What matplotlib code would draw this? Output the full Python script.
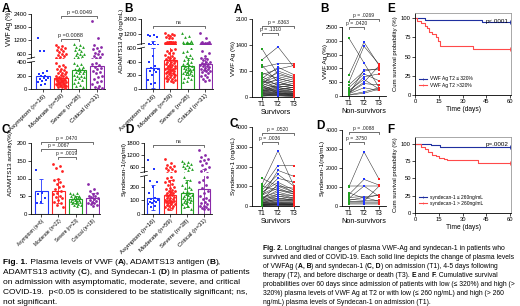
import matplotlib
matplotlib.use('Agg')
import matplotlib.pyplot as plt
from matplotlib.lines import Line2D
from matplotlib import transforms as mtrans
import numpy as np

plt.rcParams['font.family'] = ['Liberation Sans', 'DejaVu Sans']
plt.rcParams['axes.linewidth'] = 0.6

# ---------------- data ----------------
groups = ['Asymptom', 'Moderate', 'Severe', 'Critical']
n_ab = [16, 59, 38, 31]
n_c = [6, 22, 23, 18]
n_d = [16, 59, 38, 31]

vwf_asym = [1320, 740, 700, 260, 240, 220, 200, 190, 170, 160, 150, 130, 120, 100, 80, 60]
vwf_mod = [980, 950, 900, 870, 820, 760, 720, 680, 600, 560, 520, 480, 440,
           380, 360, 340, 320, 300, 290, 280, 260, 250, 240, 230, 220, 210, 200, 190, 180,
           175, 170, 160, 155, 150, 145, 140, 135, 130, 125, 120, 115, 110, 105, 100, 95,
           90, 85, 80, 75, 70, 65, 60, 55, 50, 45, 40, 35, 30, 20]
vwf_sev = [1020, 980, 900, 880, 800, 760, 700, 640, 600, 560, 520, 480, 440,
           390, 370, 350, 330, 310, 300, 290, 280, 270, 260, 250, 240, 230, 210, 200,
           190, 180, 160, 150, 130, 110, 90, 60, 40, 30]
vwf_crit = [2100, 1300, 1000, 900, 860, 800, 700, 650, 600, 560, 500, 460,
            390, 370, 350, 330, 310, 290, 270, 250, 230, 200, 180, 150, 120, 100, 80, 50, 30, 20, 10]
vwf_bar = [190, 160, 280, 340]

adam_asym = [1150, 1100, 1000, 950, 480, 400, 340, 310, 300, 280, 260, 250, 200, 130, 90, 70]
adam_mod = [1250, 1200, 1150, 1100, 1000, 950, 900, 850,
            590, 570, 550, 530, 520, 500, 480, 470, 460, 450, 440, 430, 420, 410, 400, 390,
            380, 370, 360, 350, 340, 330, 320, 310, 300, 300, 290, 280, 270, 260, 250, 240,
            230, 220, 210, 200, 190, 180, 170, 160, 150, 140, 130, 120, 110, 100, 340, 310, 280, 250, 220]
adam_sev = [1250, 1000, 950,
            600, 560, 540, 500, 480, 460, 440, 420, 400, 380, 360, 350, 340, 330, 320, 310,
            300, 300, 290, 280, 270, 260, 250, 240, 230, 220, 200, 180, 160, 140, 120, 100]
adam_crit = [1300, 900,
             560, 520, 480, 460, 440, 420, 400, 390, 380, 370, 360, 350, 340, 330, 320, 310,
             300, 290, 280, 270, 260, 250, 230, 210, 190, 170, 150, 130, 110]
adam_bar = [310, 430, 330, 370]
adam_err = [290, 200, 120, 90]

act_asym = [125, 60, 55, 45, 35, 30]
act_mod = [140, 135, 130, 120, 100, 95, 90, 85, 80, 75, 70, 65, 60, 55, 50, 48, 45, 40, 35, 30, 25, 20]
act_sev = [60, 58, 55, 52, 50, 50, 48, 46, 45, 44, 42, 40, 40, 38, 36, 35, 34, 32, 30, 28, 26, 25, 22]
act_crit = [85, 70, 65, 60, 55, 52, 50, 48, 45, 42, 40, 38, 35, 32, 30, 28, 25, 22]
act_bar = [65, 65, 42, 45]
act_err = [35, 35, 10, 15]

syn_asym = [920, 480, 240, 230, 200, 150, 120, 110, 100, 95, 90, 85, 80, 70, 60, 50]
syn_mod = [1000, 800, 700, 650, 600, 550, 500, 450, 400,
           270, 260, 250, 240, 230, 220, 210, 200, 190, 180, 175, 170, 165, 160, 155, 150,
           145, 140, 135, 130, 125, 120, 115, 110, 105, 100, 98, 95, 92, 90, 88, 85, 80, 75,
           70, 65, 60, 55, 50, 45, 40]
syn_sev = [900, 850, 800, 750, 700, 650, 600, 550, 500, 450,
           270, 250, 230, 210, 200, 190, 180, 170, 160, 150, 145, 140, 135, 130, 125, 120,
           115, 110, 105, 100, 95, 90, 85, 80, 70, 60, 50, 40]
syn_crit = [1450, 1200, 1100, 1000, 950, 900, 800, 700, 600, 500, 400,
            270, 250, 230, 210, 190, 170, 150, 130, 120, 110, 100, 90, 80, 70, 60, 55, 50, 45, 40, 35]
syn_bar = [120, 140, 150, 180]
syn_err = [90, 110, 100, 300]

# Fig 2 longitudinal (T1, T2, T3)
sv_vwf_t1 = [1300, 1000, 850, 800, 650, 600, 550, 500, 480, 450, 420, 400, 380, 360, 340, 320, 300, 280, 260, 240,
             220, 200, 190, 180, 170, 160, 150, 140, 130, 120, 110, 100, 90, 80, 70, 60, 50, 40, 30, 20]
sv_vwf_t2 = [600, 1350, 400, 900, 500, 750, 300, 800, 200, 650, 350, 550, 450, 250, 700, 150, 500, 100, 400, 300,
             250, 200, 350, 180, 150, 300, 120, 250, 100, 200, 80, 150, 60, 120, 50, 100, 40, 80, 30, 60]
sv_vwf_t3 = [500, 800, 300, 900, 400, 850, 250, 600, 200, 500, 300, 450, 350, 200, 550, 150, 400, 100, 300, 250,
             200, 150, 300, 120, 100, 250, 80, 200, 60, 150, 50, 100, 40, 80, 30, 60, 20, 50, 10, 40]
ns_vwf_t1 = [2100, 750, 500, 400, 300, 200, 150, 120, 100, 80, 60, 40, 30]
ns_vwf_t2 = [1200, 1950, 1800, 900, 800, 600, 700, 500, 450, 300, 950, 150, 100]
ns_vwf_t3 = [300, 1100, 1150, 1000, 550, 250, 800, 1100, 400, 200, 950, 300, 250]

sv_syn_t1 = [1400, 1100, 1000, 900, 800, 700, 650, 600, 550, 500, 450, 400, 380, 350, 320, 300, 280, 250, 230, 200,
             180, 160, 150, 140, 120, 100, 90, 80, 70, 60, 50, 40, 30, 20, 10]
sv_syn_t2 = [1000, 2800, 800, 2050, 1600, 1200, 1400, 1000, 900, 1800, 700, 600, 800, 500, 1100, 400, 600, 300, 500, 350,
             250, 200, 400, 150, 300, 120, 200, 100, 150, 80, 100, 60, 80, 40, 30]
sv_syn_t3 = [900, 1000, 700, 2050, 1000, 800, 1200, 700, 600, 1500, 500, 400, 600, 350, 700, 300, 500, 250, 400, 300,
             200, 150, 300, 120, 250, 100, 150, 80, 120, 60, 80, 50, 60, 30, 20]
ns_syn_t1 = [1050, 1000, 700, 600, 450, 400, 350, 300, 250, 200, 150, 100]
ns_syn_t2 = [1050, 2850, 400, 1400, 500, 1050, 300, 450, 250, 200, 150, 100]
ns_syn_t3 = [1050, 1400, 600, 1100, 550, 500, 300, 250, 1050, 200, 150, 100]

# Kaplan-Meier
e_low_t = [0, 6, 42, 60]
e_low_s = [100, 97, 95, 95]
e_high_t = [0, 1.5, 3.5, 6, 7.5, 9, 11, 13, 14.5, 16, 36.5, 60]
e_high_s = [100, 96, 93, 90, 87, 82, 79, 75, 70, 64, 60, 60]
f_low_t = [0, 10, 16, 34, 60]
f_low_s = [100, 98, 96, 95, 95]
f_high_t = [0, 4, 6, 8, 10.5, 13, 15, 18, 20, 40, 60]
f_high_s = [100, 96, 92, 88, 84, 82, 80, 78, 76, 73, 73]

BLUE, RED, GREEN, PURPLE = '#2235ff', '#ff2222', '#22a022', '#8a2aa8'
COLS = [BLUE, RED, GREEN, PURPLE]
MARKS = ['s', 'o', '^', 'o']

# ---------------- figure ----------------
W, H = 520, 306
fig = plt.figure(figsize=(W / 100, H / 100), dpi=100)


def rect(l, t, r, b):
    return [l / W, 1 - b / H, (r - l) / W, (b - t) / H]


def fx(x):
    return x / W


def fy(y):
    return 1 - y / H


def jitter(n, spread=0.3):
    k = np.arange(n)
    return ((k * 0.6180339887) % 1 - 0.5) * 2 * spread


def style(ax, fs=4.3):
    ax.spines[['top', 'right']].set_visible(False)
    ax.tick_params(labelsize=fs, length=2, width=0.5, pad=1)


def draw_groups(ax, data, bars, err):
    for i, (vals, c, m) in enumerate(zip(data, COLS, MARKS)):
        ax.bar(i, bars[i], width=0.75, facecolor='white', edgecolor=c, lw=0.8, zorder=1)
        ax.scatter(i + jitter(len(vals)), vals, s=4, color=c, marker=m, lw=0, zorder=3)
        if err is not None:
            ax.errorbar(i, bars[i], yerr=err[i], color=c, capsize=1.5, lw=0.6,
                        capthick=0.6, zorder=4)


def xcats(ax, ns, fs):
    ax.set_xticks(range(4))
    ax.set_xticklabels([f'{g} (n={n})' for g, n in zip(groups, ns)], rotation=45,
                       ha='right', rotation_mode='anchor', fontsize=fs)


def bracket(ax, i1, i2, ypx, text, fs=4, tick=2):
    tr = mtrans.blended_transform_factory(ax.transData, fig.transFigure)
    ax.plot([i1, i1, i2, i2], [fy(ypx + tick), fy(ypx), fy(ypx), fy(ypx + tick)],
            transform=tr, color='#333333', lw=0.5, clip_on=False)
    ax.text((i1 + i2) / 2, fy(ypx - 0.6), text, transform=tr, ha='center', va='bottom',
            fontsize=fs, color='#222222')


def broken(lo, hi, lo_lim, hi_lim, lo_ticks, hi_ticks, xlim, data, bars, err, ns, xfs):
    axl = fig.add_axes(rect(*lo))
    axh = fig.add_axes(rect(*hi))
    for ax in (axl, axh):
        style(ax)
        ax.set_xlim(*xlim)
        draw_groups(ax, data, bars, err)
    axl.set_ylim(*lo_lim)
    axh.set_ylim(*hi_lim)
    axl.set_yticks(lo_ticks)
    axh.set_yticks(hi_ticks)
    axh.spines['bottom'].set_visible(False)
    axh.tick_params(axis='x', bottom=False, labelbottom=False)
    xcats(axl, ns, xfs)
    return axl, axh


# Fig 1 A
a_lo, a_hi = broken((31, 62, 105, 89), (31, 14, 105, 58), (0, 400), (400, 2400),
                    [0, 200, 400], [600, 1200, 1800, 2400], (-0.667, 3.44),
                    [vwf_asym, vwf_mod, vwf_sev, vwf_crit], vwf_bar, None, n_ab, 4.5)
bracket(a_hi, 1, 3, 16, 'p =0.0049')
bracket(a_hi, 1, 2, 39, 'p =0.0088')
fig.text(fx(10), fy(28), 'VWF Ag (%)', rotation=90, ha='center', va='center', fontsize=4.8)

# Fig 1 B
b_lo, b_hi = broken((141, 48, 213, 89), (141, 19, 213, 44), (0, 600), (400, 2400),
                    [0, 200, 400, 600], [1200, 2400], (-0.69, 3.46),
                    [adam_asym, adam_mod, adam_sev, adam_crit], adam_bar, adam_err, n_ab, 4.5)
bracket(b_hi, 0, 3, 26, 'ns')
fig.text(fx(121.5), fy(41), 'ADAMTS13 Ag (ng/mL)', rotation=90, ha='center', va='center', fontsize=4.4)

# Fig 1 C
axc = fig.add_axes(rect(31, 143, 100, 214))
style(axc)
axc.set_xlim(-0.58, 3.41)
axc.set_ylim(0, 200)
axc.set_yticks([0, 50, 100, 150, 200])
draw_groups(axc, [act_asym, act_mod, act_sev, act_crit], act_bar, act_err)
xcats(axc, n_c, 3.4)
bracket(axc, 0, 3, 142, 'p = .0470', fs=3.6)
bracket(axc, 0, 2, 149, 'p = .0067', fs=3.6)
bracket(axc, 1, 2, 157, 'p = .0019', fs=3.6)
fig.text(fx(11), fy(164), 'ADAMTS13 activity(%)', rotation=90, ha='center', va='center', fontsize=4.6)

# Fig 1 D
d_lo, d_hi = broken((144, 176, 212, 214), (144, 143, 212, 172), (0, 277), (335, 1800),
                    [0, 100, 200], [600, 1200, 1800], (-0.53, 3.47),
                    [syn_asym, syn_mod, syn_sev, syn_crit], syn_bar, syn_err, n_d, 4.3)
bracket(d_hi, 0, 3, 145, 'ns')
fig.text(fx(124), fy(169), 'Syndecan-1(ng/ml)', rotation=90, ha='center', va='center', fontsize=4.6)

# break marks
for axl, axh in ((a_lo, a_hi), (b_lo, b_hi), (d_lo, d_hi)):
    for ax, yv in ((axl, 1.0), (axh, 0.0)):
        tr = ax.transAxes
        ax.plot([-0.05, 0.05], [yv - 0.02, yv + 0.02], transform=tr, color='k', lw=0.5, clip_on=False)


# Fig 2 A-D
def long_panel(r, ylim, yticks, t1, t2, t3, xlim, xlabel, ylabel, ylx):
    ax = fig.add_axes(rect(*r))
    style(ax, fs=3.9)
    for a, b, c in zip(t1, t2, t3):
        ax.plot([0, 1, 2], [a, b, c], color='#222222', lw=0.35, zorder=1)
    for i, (vals, c) in enumerate(zip((t1, t2, t3), (GREEN, BLUE, RED))):
        ax.scatter(np.full(len(vals), i), vals, s=3, color=c, marker='s', lw=0, zorder=3)
    ax.set_ylim(*ylim)
    ax.set_yticks(yticks)
    ax.set_xlim(*xlim)
    ax.set_xticks([0, 1, 2])
    ax.set_xticklabels(['T1', 'T2', 'T3'], fontsize=4.8)
    ax.set_xlabel(xlabel, fontsize=5.2, labelpad=0.5)
    cy = (r[1] + r[3]) / 2
    fig.text(fx(ylx), fy(cy), ylabel, rotation=90, ha='center', va='center', fontsize=4.6)
    return ax


g_a = long_panel((252, 19, 299, 97), (0, 2100), [0, 700, 1400, 2100], sv_vwf_t1, sv_vwf_t2, sv_vwf_t3,
                 (-0.625, 2.31), 'Survivors', 'VWF Ag (%)', 234)
bracket(g_a, 0, 2, 26, 'p = .6363', fs=3.6)
bracket(g_a, 0, 1, 33, 'p = .1310', fs=3.6)
g_b = long_panel((342, 27, 386, 96), (0, 2500), [0, 500, 1000, 1500, 2000, 2500], ns_vwf_t1, ns_vwf_t2,
                 ns_vwf_t3, (-0.45, 2.45), 'Non-survivors', 'VWF Ag (%)', 325)
bracket(g_b, 0, 2, 19, 'p = .0269', fs=3.6)
bracket(g_b, 0, 1, 27, 'p = .0420', fs=3.6)
g_c = long_panel((252, 127, 299, 206), (0, 4000), [0, 1000, 2000, 3000, 4000], sv_syn_t1, sv_syn_t2,
                 sv_syn_t3, (-0.625, 2.31), 'Survivors', 'Syndecan-1 (ng/mL)', 234)
bracket(g_c, 0, 2, 133, 'p = .0520', fs=3.6)
bracket(g_c, 0, 1, 142, 'p = .0036', fs=3.6)
g_d = long_panel((342, 130, 386, 206), (0, 4000), [0, 1000, 2000, 3000, 4000], ns_syn_t1, ns_syn_t2,
                 ns_syn_t3, (-0.45, 2.45), 'Non-survivors', 'Syndecan-1(ng/mL)', 322)
bracket(g_d, 0, 2, 132, 'p = .0088', fs=3.6)
bracket(g_d, 0, 1, 142, 'p = .3750', fs=3.6)


# Fig 2 E, F
def km_panel(r, ylim, lt, ls, ht, hs, labels, ptxt):
    ax = fig.add_axes(rect(*r))
    ax.tick_params(labelsize=4.2, length=2, width=0.5, pad=1)
    for s in ('top', 'right'):
        ax.spines[s].set_color('#9a9a9a')
    ax.step(lt, ls, where='post', color='#1f2f9f', lw=0.8)
    ax.step(ht, hs, where='post', color='#ff4a4a', lw=0.8)
    ax.plot([lt[-1]], [ls[-1]], marker='|', ms=2.5, color='#1f2f9f', mew=0.6)
    ax.plot([ht[-1]], [hs[-1]], marker='|', ms=2.5, color='#ff4a4a', mew=0.6)
    ax.set_xlim(0, 60.6)
    ax.set_ylim(*ylim)
    ax.set_xticks([0, 15, 30, 45, 60])
    ax.set_yticks([0, 25, 50, 75, 100])
    ax.set_xlabel('Time (days)', fontsize=4.8, labelpad=1)
    handles = [Line2D([], [], color='#1f2f9f', lw=0.8, marker='|', ms=2, mew=0.5),
               Line2D([], [], color='#ff4a4a', lw=0.8, marker='|', ms=2, mew=0.5)]
    ax.legend(handles, labels, loc='lower left', bbox_to_anchor=(0.02, 0.06), fontsize=3.5,
              frameon=False, handlelength=1.6, handletextpad=0.6, labelspacing=0.25, borderpad=0)
    ax.text(0.97, 0.9, ptxt, transform=ax.transAxes, ha='right', va='center', fontsize=4.5)
    cy = (r[1] + r[3]) / 2
    fig.text(fx(395), fy(cy), 'Cum survival probability (%)', rotation=90, ha='center',
             va='center', fontsize=4.3)
    return ax


km_panel((415, 13, 511, 95), (0, 106.5), e_low_t, e_low_s, e_high_t, e_high_s,
         ['VWF Ag T2 \u2264 320%', 'VWF Ag T2 >320%'], 'p<.0001')
km_panel((415, 137, 511, 213), (0, 110), f_low_t, f_low_s, f_high_t, f_high_s,
         ['syndecan-1 \u2264 260ng/mL', 'syndecan-1 > 260ng/mL'], 'p=.0002')

# panel letters
for (x, y, s) in [(2, 12, 'A'), (124, 12, 'B'), (2, 133, 'C'), (125, 133, 'D'),
                  (234, 13, 'A'), (320, 12, 'B'), (229, 127, 'C'), (316, 129, 'D'),
                  (387, 12, 'E'), (387, 133, 'F')]:
    fig.text(fx(x), fy(y), s, fontsize=8.5, fontweight='bold', ha='left', va='baseline')

# captions
CAP_FAM = ['Liberation Sans', 'DejaVu Sans']
renderer = fig.canvas.get_renderer()


def width_of(txt, fs, bold):
    t1 = fig.text(0, 0, txt + '|', fontsize=fs, fontweight='bold' if bold else 'normal', family=CAP_FAM)
    t2 = fig.text(0, 0, '|', fontsize=fs, fontweight='bold' if bold else 'normal', family=CAP_FAM)
    w = t1.get_window_extent(renderer).width - t2.get_window_extent(renderer).width
    t1.remove()
    t2.remove()
    return w


def rich(x, y, parts, fs):
    cx = x
    for txt, bold in parts:
        fig.text(fx(cx), fy(y), txt, fontsize=fs, fontweight='bold' if bold else 'normal',
                 family=CAP_FAM, ha='left', va='baseline')
        cx += width_of(txt, fs, bold)


cap1 = [
    [('Fig. 1.', True), (' Plasma levels of VWF (', False), ('A', True), ('), ADAMTS13 antigen (', False),
     ('B', True), ('),', False)],
    [('ADAMTS13 activity (', False), ('C', True), ('), and Syndecan-1 (', False), ('D', True),
     (') in plasma of patients', False)],
    [('on admission with asymptomatic, moderate, severe, and critical', False)],
    [('COVID-19.  p<0.05 is considered to be statistically significant; ns,', False)],
    [('not significant.', False)],
]
cap2 = [
    [('Fig. 2.', True), (' Longitudinal changes of plasma VWF-Ag and syndecan-1 in patients who', False)],
    [('survived and died of COVID-19. Each solid line depicts the change of plasma levels', False)],
    [('of VWFAg (', False), ('A, B', True), (') and syndecan-1 (', False), ('C, D', True),
     (') on admission (T1), 4-5 days following', False)],
    [('therapy (T2), and before discharge or death (T3). ', False), ('E', True), (' and ', False),
     ('F', True), ('. Cumulative survival', False)],
    [('probabilities over 60 days since admission of patients with low (\u2264 320%) and high (>', False)],
    [('320%) plasma levels of VWF Ag at T2 or with low (\u2264 260 ng/mL) and high (> 260', False)],
    [('ng/mL) plasma levels of Syndecan-1 on admission (T1).', False)],
]
for i, line in enumerate(cap1):
    rich(3, 264.5 + i * 10.0, line, 6.0)
for i, line in enumerate(cap2):
    rich(263, 249.5 + i * 9.1, line, 4.85)

fig.savefig('out.png', dpi=100)
